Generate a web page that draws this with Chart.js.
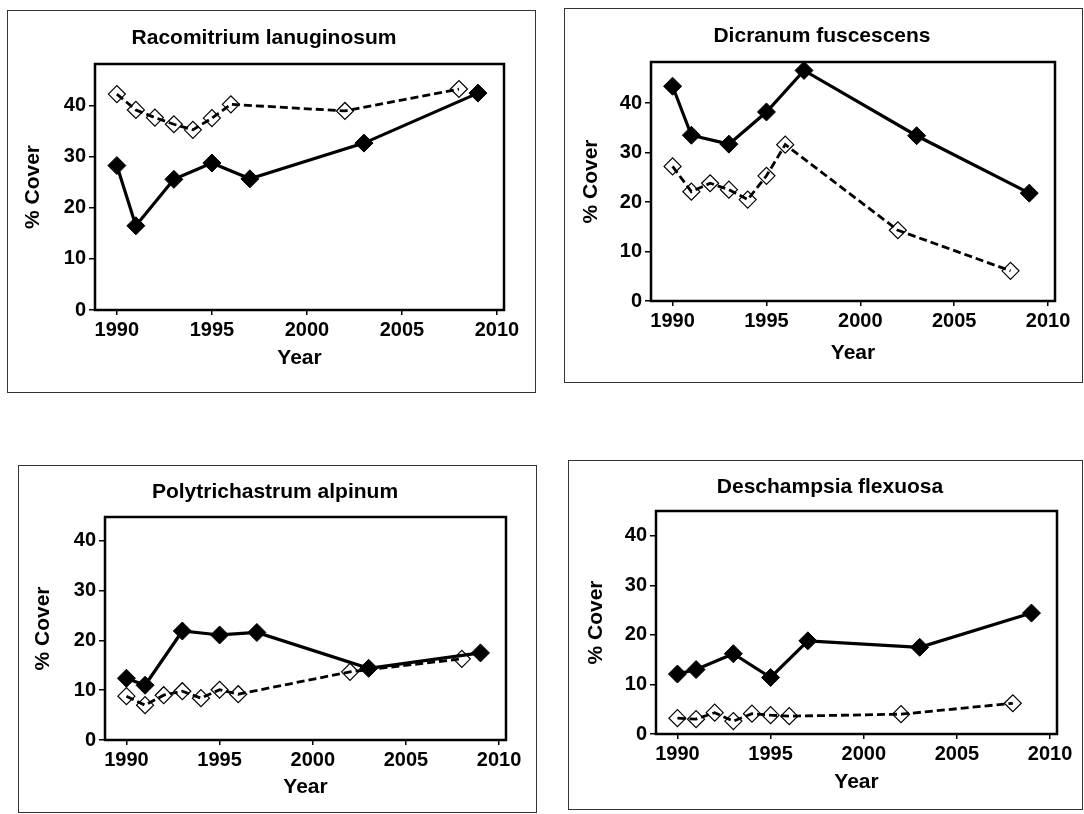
<!DOCTYPE html>
<html lang="en">
<head>
<meta charset="UTF-8">
<title>% Cover 1990-2009</title>
<script src="https://cdn.jsdelivr.net/npm/chart.js@4/dist/chart.umd.min.js"></script>
<style>
  html, body { margin: 0; padding: 0; background: #fff; overflow: hidden; }
  #page { position: relative; width: 1084px; height: 814px; overflow: hidden; }
  .frame { position: absolute; border: 1px solid #333; box-sizing: border-box; }
  canvas { position: absolute; }
</style>
</head>
<body>
<div id="page"></div>
<script>
// survey years of the two series
const solidYears = [1990, 1991, 1993, 1995, 1997, 2003, 2009];
const dashedYears = [1990, 1991, 1992, 1993, 1994, 1995, 1996, 2002, 2008];
const xTicks = [1990, 1995, 2000, 2005, 2010];
const yTicks = [0, 10, 20, 30, 40];

const titles = ['Racomitrium lanuginosum', 'Dicranum fuscescens', 'Polytrichastrum alpinum', 'Deschampsia flexuosa'];

// % cover, solid line with filled diamonds
const racoSolid = [28.3, 16.5, 25.6, 28.8, 25.7, 32.7, 42.5];
const dicrSolid = [43.4, 33.5, 31.7, 38.2, 46.6, 33.4, 21.8];
const polySolid = [12.4, 11.0, 21.9, 21.1, 21.6, 14.4, 17.5];
const descSolid = [12.1, 13.0, 16.2, 11.4, 18.8, 17.5, 24.4];

// % cover, dashed line with open diamonds
const racoDashed = [42.3, 39.2, 37.7, 36.4, 35.3, 37.6, 40.3, 39.0, 43.3];
const dicrDashed = [27.2, 22.1, 23.8, 22.5, 20.5, 25.3, 31.6, 14.3, 6.1];
const polyDashed = [8.8, 7.0, 9.0, 9.8, 8.4, 10.1, 9.2, 13.7, 16.3];
const descDashed = [3.2, 3.0, 4.3, 2.6, 4.1, 3.8, 3.6, 4.0, 6.2];

const FONT = "'Liberation Sans', Arial, sans-serif";
const X_MIN = 1988.85, X_MAX = 2010.37;
const TITLE_SIZE = 21, TICK_SIZE = 20;

// page layout: frame box and plot box as [left, top, right, bottom]
const panels = [
  { title: titles[0], solid: racoSolid, dashed: racoDashed, yMax: 48.2,
    frame: [7, 10, 536, 393], plot: [95, 64, 504, 310], titleX: 264, titleY: 38, yTitleX: 33, xTitleY: 358 },
  { title: titles[1], solid: dicrSolid, dashed: dicrDashed, yMax: 48.3,
    frame: [564, 8, 1083, 383], plot: [651, 62, 1055, 301], titleX: 822, titleY: 36, yTitleX: 591, xTitleY: 353 },
  { title: titles[2], solid: polySolid, dashed: polyDashed, yMax: 44.8,
    frame: [18, 465, 537, 813], plot: [105, 517, 506, 740], titleX: 275, titleY: 492, yTitleX: 43, xTitleY: 787 },
  { title: titles[3], solid: descSolid, dashed: descDashed, yMax: 45.0,
    frame: [568, 460, 1083, 810], plot: [656, 511, 1057, 734], titleX: 830, titleY: 487, yTitleX: 596, xTitleY: 782 }
];

const plotBox = {
  id: 'plotBox',
  beforeDatasetsDraw(chart) {
    const { ctx, chartArea: a } = chart;
    ctx.save();
    ctx.strokeStyle = '#000';
    ctx.lineWidth = 2.5;
    ctx.strokeRect(a.left, a.top, a.width, a.height);
    ctx.restore();
  }
};

function buildPanel(p) {
  const page = document.getElementById('page');
  const [fl, ft, fr, fb] = p.frame;
  const [pl, pt, pr, pb] = p.plot;

  const frame = document.createElement('div');
  frame.className = 'frame';
  frame.style.left = fl + 'px';
  frame.style.top = ft + 'px';
  frame.style.width = (fr - fl) + 'px';
  frame.style.height = (fb - ft) + 'px';
  page.appendChild(frame);

  // canvas centred on the panel title
  const half = Math.max(p.titleX - fl, pr + 26 - p.titleX);
  const cl = p.titleX - half, cw = 2 * half;
  const ct = ft + 1, ch = fb - ft - 2;
  const canvas = document.createElement('canvas');
  canvas.width = cw;
  canvas.height = ch;
  canvas.style.left = cl + 'px';
  canvas.style.top = ct + 'px';
  canvas.style.width = cw + 'px';
  canvas.style.height = ch + 'px';
  page.appendChild(canvas);

  const lh = TITLE_SIZE * 1.2;
  const titleTop = p.titleY - ct - lh / 2;
  const tickFont = { family: FONT, size: TICK_SIZE, weight: 'bold' };
  const titleFont = { family: FONT, size: TITLE_SIZE, weight: 'bold' };

  new Chart(canvas, {
    type: 'line',
    data: {
      datasets: [
        {
          label: 'solid',
          data: solidYears.map((x, i) => ({ x: x, y: p.solid[i] })),
          borderColor: '#000',
          borderWidth: 3.2,
          pointStyle: 'rectRot',
          pointRadius: 9,
          pointBackgroundColor: '#000',
          pointBorderColor: '#000',
          pointBorderWidth: 1,
          tension: 0,
          clip: false
        },
        {
          label: 'dashed',
          data: dashedYears.map((x, i) => ({ x: x, y: p.dashed[i] })),
          borderColor: '#000',
          borderWidth: 2.8,
          borderDash: [8, 4],
          pointStyle: 'rectRot',
          pointRadius: 8.5,
          pointBackgroundColor: 'rgba(255,255,255,0)',
          pointBorderColor: '#000',
          pointBorderWidth: 1.2,
          tension: 0,
          clip: false
        }
      ]
    },
    options: {
      responsive: false,
      animation: false,
      devicePixelRatio: 1,
      layout: { padding: 0 },
      plugins: {
        legend: { display: false },
        tooltip: { enabled: false },
        title: {
          display: true,
          text: p.title,
          color: '#000',
          font: titleFont,
          padding: { top: titleTop, bottom: (pt - ct) - titleTop - lh }
        }
      },
      scales: {
        x: {
          type: 'linear',
          min: X_MIN,
          max: X_MAX,
          afterBuildTicks: s => { s.ticks = xTicks.map(v => ({ value: v })); },
          afterFit: s => {
            s.height = ct + ch - pb;
            s.paddingLeft = 0;
            s.paddingRight = (cl + cw) - pr;
          },
          ticks: { color: '#000', font: tickFont, padding: 3, maxRotation: 0, autoSkip: false,
                   callback: v => String(v) },
          grid: { drawOnChartArea: false, drawTicks: true, tickLength: 5, color: '#000', lineWidth: 1.5 },
          border: { display: false },
          title: {
            display: true, text: 'Year', color: '#000', font: titleFont,
            padding: { top: 0, bottom: (ct + ch) - p.xTitleY - lh / 2 }
          }
        },
        y: {
          min: 0,
          max: p.yMax,
          afterBuildTicks: s => { s.ticks = yTicks.map(v => ({ value: v })); },
          afterFit: s => {
            s.width = pl - cl;
            s.paddingTop = 0;
            s.paddingBottom = 0;
          },
          ticks: { color: '#000', font: tickFont, padding: 3 },
          grid: { drawOnChartArea: false, drawTicks: true, tickLength: 6, color: '#000', lineWidth: 1.5 },
          border: { display: false },
          title: {
            display: true, text: '% Cover', color: '#000', font: titleFont,
            padding: { top: p.yTitleX - cl - lh / 2, bottom: 0 }
          }
        }
      }
    },
    plugins: [plotBox]
  });
}

panels.forEach(buildPanel);
</script>
</body>
</html>
